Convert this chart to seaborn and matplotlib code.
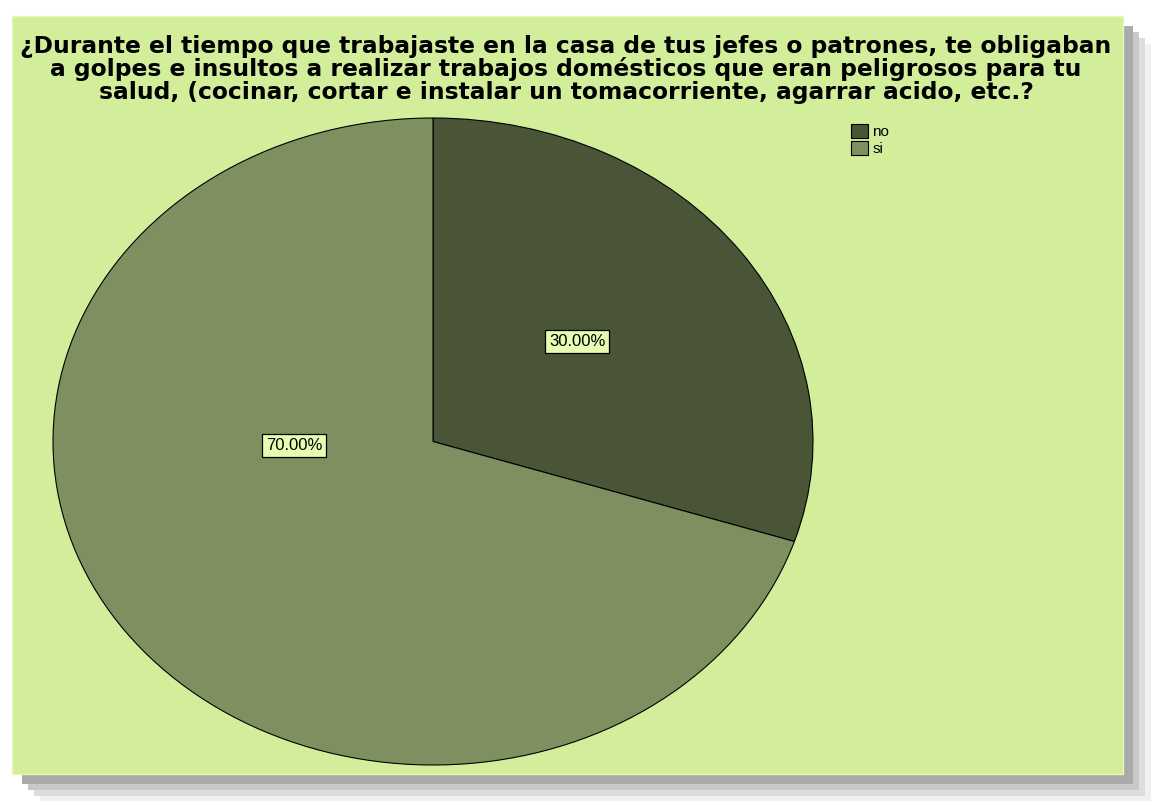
import numpy as np
import matplotlib
matplotlib.use("Agg")
import matplotlib.pyplot as plt
import seaborn as sns
from matplotlib.patches import Rectangle, Patch

sns.set_style("white")
plt.rcParams["font.family"] = ["Liberation Sans", "DejaVu Sans"]
plt.rcParams["text.color"] = "black"

categories = ["no", "si"]
percentages = [30.0, 70.0]
colors = ["#4A5537", "#7F9060"]
title = ("¿Durante el tiempo que trabajaste en la casa de tus jefes o patrones, te obligaban\n"
         "a golpes e insultos a realizar trabajos domésticos que eran peligrosos para tu\n"
         "salud, (cocinar, cortar e instalar un tomacorriente, agarrar acido, etc.?")

W, H = 1152, 801
fig = plt.figure(figsize=(W / 100, H / 100), dpi=100, facecolor="white")


def fbox(x0, y0, x1, y1):
    # pixel box (top-left origin) -> figure fraction rect
    return [x0 / W, 1 - y1 / H, (x1 - x0) / W, (y1 - y0) / H]


# soft drop shadow behind the panel
for off, col in [(28, "#F0F0F0"), (22, "#DDDDDD"), (16, "#C8C8C8"), (10, "#AAAAAA")]:
    r = fbox(12 + off, 16 + off, 1123 + off, 774 + off)
    fig.add_artist(Rectangle((r[0], r[1]), r[2], r[3], transform=fig.transFigure,
                             facecolor=col, edgecolor="none", zorder=0))
r = fbox(12, 16, 1123, 774)
fig.add_artist(Rectangle((r[0], r[1]), r[2], r[3], transform=fig.transFigure,
                         facecolor="#D3EE9B", edgecolor="#E4FBB0", lw=1, zorder=1))

fig.text(566 / W, 1 - 35 / H, title, ha="center", va="top", fontsize=16.8,
         fontweight="bold", family=["DejaVu Sans"], linespacing=0.97, zorder=3,
         color="black")

ax = fig.add_axes(fbox(53, 118, 813, 765))
ax.set_zorder(2)
ax.patch.set_visible(False)
wedges, texts, autotexts = ax.pie(
    percentages, colors=colors, startangle=90, counterclock=False,
    autopct="%.2f%%", pctdistance=0.5,
    wedgeprops=dict(edgecolor="black", linewidth=0.8),
    textprops=dict(fontsize=12, color="black"),
)
ax.set_aspect("auto")
ax.set_xlim(-1, 1)
ax.set_ylim(-1, 1)
ax.axis("off")

label_pos = [(0.379, 0.31), (-0.366, -0.012)]
for t, (x, y) in zip(autotexts, label_pos):
    t.set_position((x, y))
    t.set_ha("center")
    t.set_va("center")
    t.set_bbox(dict(boxstyle="square,pad=0.25", facecolor="#E6FDB4",
                    edgecolor="black", linewidth=0.9))

handles = [Patch(facecolor=c, edgecolor="black", linewidth=0.8, label=l)
           for c, l in zip(colors, categories)]
leg = fig.legend(handles=handles, loc="upper left", bbox_to_anchor=(840 / W, 1 - 113 / H),
                 frameon=False, fontsize=11, handlelength=1.15, handleheight=1.05,
                 handletextpad=0.25, labelspacing=0.12, borderpad=0.2,
                 labelcolor="black")
leg.set_zorder(3)

fig.savefig("out.png", dpi=100, facecolor=fig.get_facecolor())
